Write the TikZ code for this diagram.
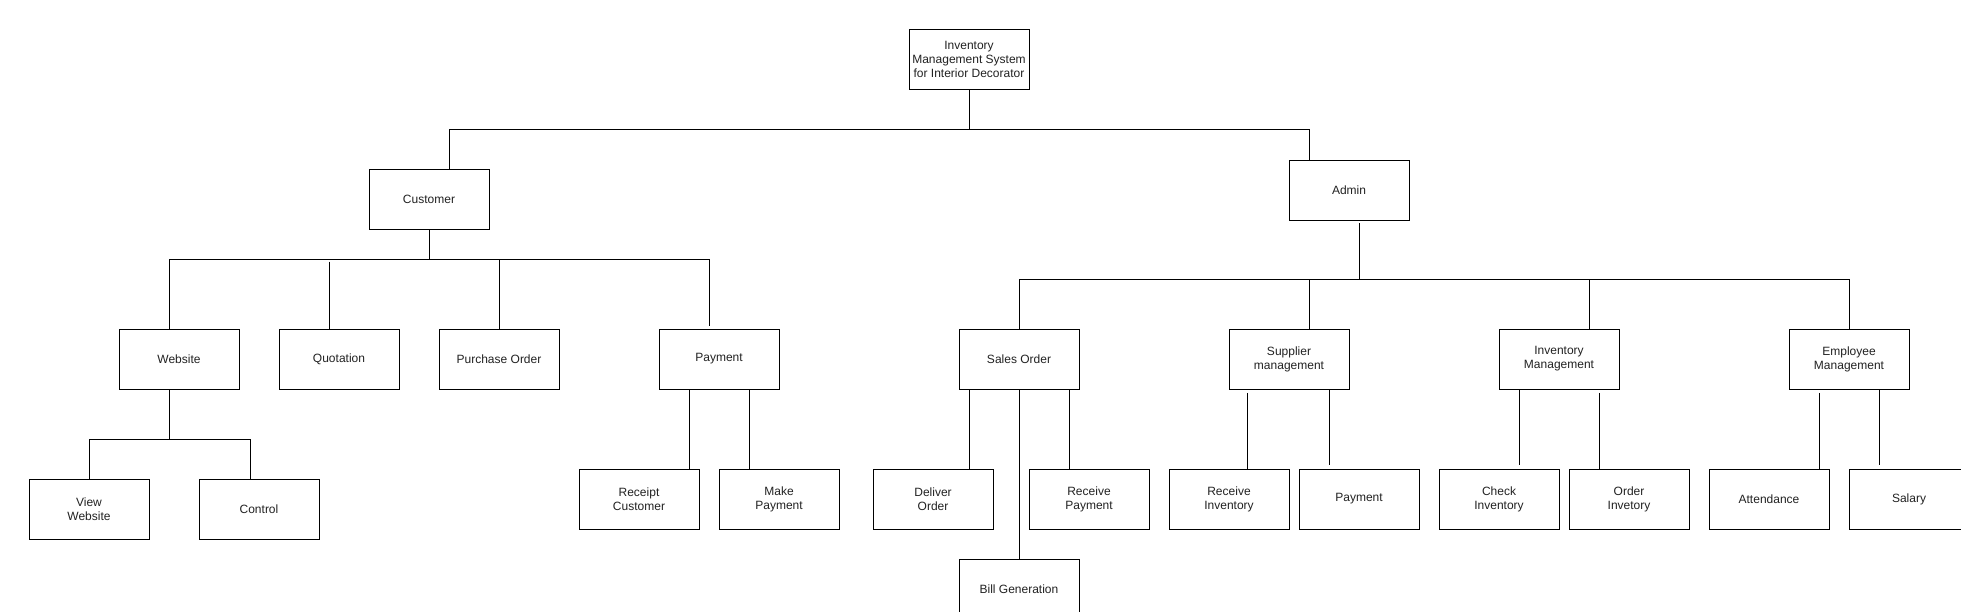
\documentclass[tikz,border=0pt]{standalone}
\usepackage{fontspec}
\setmainfont{Liberation Sans}
\definecolor{txt}{HTML}{222222}
\begin{document}
\begin{tikzpicture}[x=0.75pt,y=-0.75pt,
  box/.style={draw=black,line width=0.75pt,rectangle,minimum width=90pt,minimum height=45pt,inner sep=0pt,align=center,font=\fontsize{9}{10.5}\selectfont,text=txt},
  link/.style={draw=black,line width=0.75pt}]
\useasboundingbox (0,0) rectangle (1961,611);
\fill[white] (0,0) rectangle (1961,611);
% nodes
\node[box] (root) at (969,59) {Inventory\\Management System\\for Interior Decorator};
\node[box] (cust) at (429,199) {Customer};
\node[box] (admin) at (1349,190) {Admin};
\node[box] (web) at (179,359) {Website};
\node[box] (quot) at (339,359) {Quotation};
\node[box] (po) at (499,359) {Purchase Order};
\node[box] (pay) at (719,359) {Payment};
\node[box] (viewweb) at (89,509) {View\\Website};
\node[box] (control) at (259,509) {Control};
\node[box] (rcust) at (639,499) {Receipt\\Customer};
\node[box] (mkpay) at (779,499) {Make\\Payment};
\node[box] (so) at (1019,359) {Sales Order};
\node[box] (sup) at (1289,359) {Supplier\\management};
\node[box] (invm) at (1559,359) {Inventory\\Management};
\node[box] (emp) at (1849,359) {Employee\\Management};
\node[box] (deliver) at (933,499) {Deliver\\Order};
\node[box] (recpay) at (1089,499) {Receive\\Payment};
\node[box] (bill) at (1019,589) {Bill Generation};
\node[box] (recinv) at (1229,499) {Receive\\Inventory};
\node[box] (supay) at (1359,499) {Payment};
\node[box] (check) at (1499,499) {Check\\Inventory};
\node[box] (order) at (1629,499) {Order\\Invetory};
\node[box] (attend) at (1769,499) {Attendance};
\node[box] (salary) at (1909,499) {Salary};
% junction coordinates
\coordinate (b1) at (969,129);
\coordinate (b1l) at (449,129);
\coordinate (b1r) at (1309,129);
\coordinate (b2) at (429,259);
\coordinate (b2l) at (169,259);
\coordinate (b2r) at (709,259);
\coordinate (b2q) at (329,259);
\coordinate (b2p) at (499,259);
\coordinate (b3) at (169,439);
\coordinate (b3l) at (89,439);
\coordinate (b3r) at (250,439);
\coordinate (b4) at (1359,279);
\coordinate (b4l) at (1019,279);
\coordinate (b4r) at (1849,279);
\coordinate (b4s) at (1309,279);
\coordinate (b4i) at (1589,279);
% root level
\draw[link] (root.south) -- (b1);
\draw[link] ([xshift=15pt]cust.north) -- (b1l) -- (b1r) -- ([xshift=-30pt]admin.north);
% customer
\draw[link] (cust.south) -- (b2);
\draw[link,shorten >=2pt] ([xshift=-7.5pt]web.north) -- (b2l) -- (b2r) -- ([xshift=-7.5pt]pay.north);
\draw[link,shorten <=2pt] (b2q) -- ([xshift=-7.5pt]quot.north);
\draw[link] (b2p) -- (po.north);
% website
\draw[link] ([xshift=-7.5pt]web.south) -- (b3);
\draw[link] (viewweb.north) -- (b3l) -- (b3r) -- ([xshift=-6.75pt]control.north);
% payment
\draw[link] ([xshift=-22.5pt]pay.south) -- ([xshift=37.5pt]rcust.north);
\draw[link] ([xshift=22.5pt]pay.south) -- ([xshift=-22.5pt]mkpay.north);
% admin
\draw[link,shorten <=2pt] ([xshift=7.5pt]admin.south) -- (b4);
\draw[link] (so.north) -- (b4l) -- (b4r) -- (emp.north);
\draw[link] (b4s) -- ([xshift=15pt]sup.north);
\draw[link] (b4i) -- ([xshift=22.5pt]invm.north);
% sales order
\draw[link] ([xshift=-37.5pt]so.south) -- ([xshift=27pt]deliver.north);
\draw[link] (so.south) -- (bill.north);
\draw[link] ([xshift=37.5pt]so.south) -- ([xshift=-15pt]recpay.north);
% supplier
\draw[link,shorten <=2.5pt] ([xshift=-31.5pt]sup.south) -- ([xshift=13.5pt]recinv.north);
\draw[link,shorten >=2.5pt] ([xshift=30pt]sup.south) -- ([xshift=-22.5pt]supay.north);
% inventory
\draw[link,shorten >=2.5pt] ([xshift=-30pt]invm.south) -- ([xshift=15pt]check.north);
\draw[link,shorten <=2.5pt] ([xshift=30pt]invm.south) -- ([xshift=-22.5pt]order.north);
% employee
\draw[link,shorten <=2.5pt] ([xshift=-22.5pt]emp.south) -- ([xshift=37.5pt]attend.north);
\draw[link,shorten >=2.5pt] ([xshift=22.5pt]emp.south) -- ([xshift=-22.5pt]salary.north);
\end{tikzpicture}
\end{document}
